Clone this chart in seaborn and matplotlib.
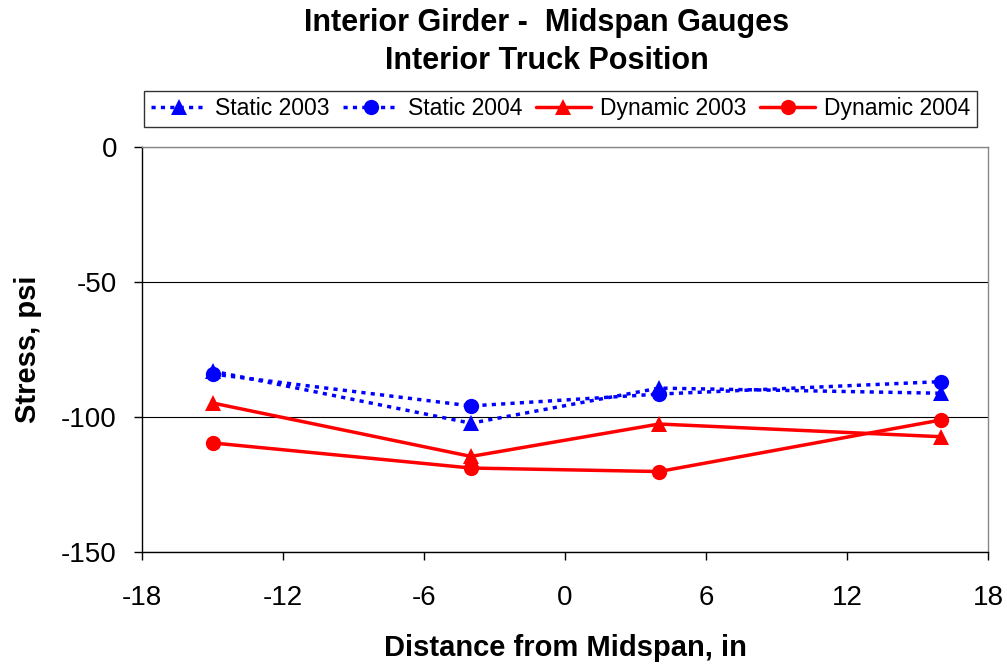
import numpy as np
import pandas as pd
import seaborn as sns
import matplotlib.pyplot as plt

# ---------- data ---------- #
distance = [-15, -4, 4, 16]
static_2003 = [-83.0, -102.3, -89.3, -91.2]
static_2004 = [-84.1, -95.9, -91.5, -86.9]
dynamic_2003 = [-94.8, -114.6, -102.6, -107.3]
dynamic_2004 = [-109.6, -118.9, -120.2, -101.1]

series = {
    'Static 2003': static_2003,
    'Static 2004': static_2004,
    'Dynamic 2003': dynamic_2003,
    'Dynamic 2004': dynamic_2004,
}
styles = {
    'Static 2003': dict(color='#0000ff', marker='^', ls=(0, (1.2, 1.5))),
    'Static 2004': dict(color='#0000ff', marker='o', ls=(0, (1.2, 1.5))),
    'Dynamic 2003': dict(color='#ff0000', marker='^', ls='-'),
    'Dynamic 2004': dict(color='#ff0000', marker='o', ls='-'),
}

df = pd.DataFrame([(k, x, y) for k, v in series.items() for x, y in zip(distance, v)],
                  columns=['series', 'x', 'y'])

sns.set_style('white')
plt.rcParams['font.family'] = ['Liberation Sans', 'DejaVu Sans']
plt.rcParams['axes.unicode_minus'] = False
plt.rcParams['text.color'] = 'black'
plt.rcParams['axes.labelcolor'] = 'black'

fig = plt.figure(figsize=(10.07, 6.68), dpi=100)
ax = fig.add_axes([142 / 1007, 1 - 552 / 668, 846 / 1007, 405 / 668])

for name in series:
    st = styles[name]
    sub = df[df.series == name]
    sns.lineplot(data=sub, x='x', y='y', ax=ax, color=st['color'], marker=st['marker'],
                 linestyle=st['ls'], linewidth=2.5, markersize=11, markeredgewidth=0,
                 label=name)

ax.set_xlim(-18, 18)
ax.set_ylim(-150, 0)
ax.set_xticks(np.arange(-18, 19, 6))
ax.set_yticks([-150, -100, -50, 0])
ax.yaxis.grid(True, color='black', linewidth=0.8)
ax.xaxis.grid(False)
ax.tick_params(axis='both', labelsize=20, direction='out', length=6, width=1,
               bottom=True, left=True, colors='black')
ax.tick_params(axis='x', pad=18)
ax.tick_params(axis='y', pad=12)
for s in ['left', 'bottom']:
    ax.spines[s].set_color('black')
    ax.spines[s].set_linewidth(1)
for s in ['top', 'right']:
    ax.spines[s].set_color('#888888')
    ax.spines[s].set_linewidth(1)

ax.set_xlabel('Distance from Midspan, in', fontsize=21, fontweight='bold', labelpad=16)
ax.set_ylabel('Stress, psi', fontsize=21, fontweight='bold', labelpad=14)

fig.text(547 / 1007, 1 - 42 / 668, 'Interior Girder -  Midspan Gauges\nInterior Truck Position',
         ha='center', va='center', fontsize=22, fontweight='bold', linespacing=1.35)

leg = ax.legend(loc='center', bbox_to_anchor=(0.495, 1.094), ncol=4, fontsize=16.5,
                frameon=True, fancybox=False, edgecolor='black', handlelength=2.4,
                handletextpad=0.4, columnspacing=0.6, borderpad=0.3)
leg.get_frame().set_linewidth(1)

fig.savefig('out.png', dpi=100)
